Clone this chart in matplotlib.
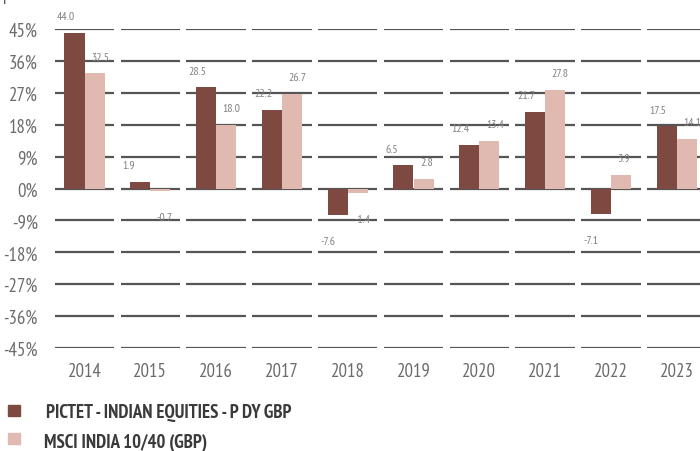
import matplotlib
matplotlib.use("Agg")
import matplotlib.pyplot as plt
from matplotlib.patches import Rectangle

plt.rcParams['font.family'] = ['PT Sans Narrow', 'DejaVu Sans']

years = ["2014", "2015", "2016", "2017", "2018", "2019", "2020", "2021", "2022", "2023"]
fund = [44.0, 1.9, 28.5, 22.2, -7.6, 6.5, 12.4, 21.7, -7.1, 17.5]
index = [32.5, -0.7, 18.0, 26.7, -1.4, 2.8, 13.4, 27.8, 3.9, 14.1]
yticks = [45, 36, 27, 18, 9, 0, -9, -18, -27, -36, -45]
series_names = ["PICTET - INDIAN EQUITIES - P DY GBP", "MSCI INDIA 10/40 (GBP)"]

c_dark = '#7d4941'
c_light = '#e0b9b0'
grid_c = '#555555'
tick_c = '#6b6b6b'
lab_c = '#808080'

W, H = 700, 452
fig = plt.figure(figsize=(W / 100, H / 100), dpi=100)
ax = fig.add_axes([51.6 / W, (H - 349) / H, 658 / W, 319 / H])
ax.set_xlim(-0.5, len(years) - 0.5)
ax.set_ylim(-45, 45)

x = list(range(len(years)))
for yv in yticks:
    for i in x:
        ax.hlines(yv, i - 0.45, i + 0.45, color=grid_c, lw=1.6, zorder=1)

bw = 0.305
ax.bar([i - bw / 2 for i in x], fund, width=bw, color=c_dark, zorder=2)
ax.bar([i + bw / 2 for i in x], index, width=bw, color=c_light, zorder=2)

def lab(xl, v):
    yl = v + 4.7 if v >= 0 else v - 7.3
    ax.text(xl, yl, f"{v:.1f}", ha='left', va='center', fontsize=8.5,
            color=lab_c, clip_on=False, zorder=3)

for i in x:
    lab(i - 0.42, fund[i])
    lab(i + 0.10, index[i])

ax.set_yticks(yticks)
ax.set_yticklabels([f"{v}%" for v in yticks])
ax.set_xticks(x)
ax.set_xticklabels(years)
ax.tick_params(axis='y', length=0, pad=10, labelsize=13.5, labelcolor=tick_c)
ax.tick_params(axis='x', length=0, pad=10, labelsize=13.5, labelcolor=tick_c)
for s in ax.spines.values():
    s.set_visible(False)

# legend
fig.patches.append(Rectangle((8 / W, (H - 417) / H), 12 / W, 11 / H, transform=fig.transFigure,
                             color=c_dark, figure=fig))
fig.patches.append(Rectangle((8 / W, (H - 445) / H), 12 / W, 11 / H, transform=fig.transFigure,
                             color=c_light, figure=fig))
fig.text(46 / W, (H - 413.5) / H, series_names[0], ha='left', va='center', fontsize=13.5,
         fontweight='bold', color='#3a3a3a')
fig.text(44 / W, (H - 442.5) / H, series_names[1], ha='left', va='center', fontsize=13.5,
         fontweight='bold', color='#3a3a3a')

fig.text(3 / W, 1.0, 'p', ha='left', va='baseline', fontsize=13, color='#555555')

fig.savefig('out.png', dpi=100)
